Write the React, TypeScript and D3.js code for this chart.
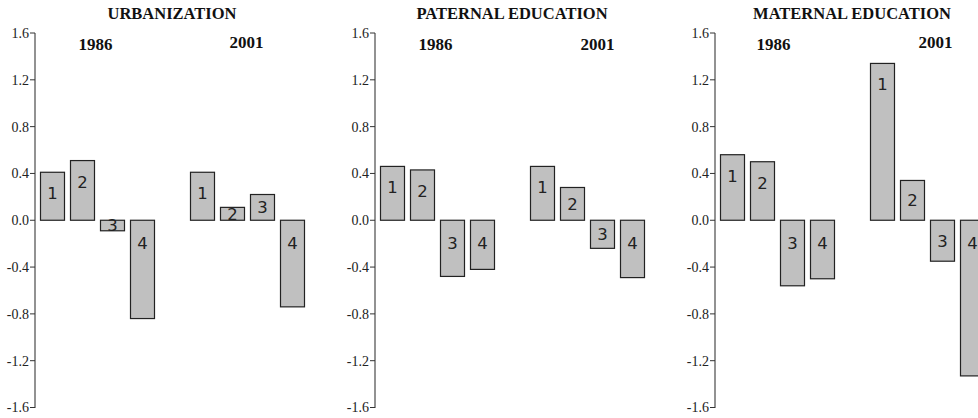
import React from "react";
import * as d3 from "d3";

const panelTitles = ["URBANIZATION", "PATERNAL EDUCATION", "MATERNAL EDUCATION"];
const years = ["1986", "2001"];
const groups = ["1", "2", "3", "4"];

const urbanization1986 = [0.41, 0.51, -0.09, -0.84];
const urbanization2001 = [0.41, 0.11, 0.22, -0.74];
const paternal1986 = [0.46, 0.43, -0.48, -0.42];
const paternal2001 = [0.46, 0.28, -0.24, -0.49];
const maternal1986 = [0.56, 0.5, -0.56, -0.5];
const maternal2001 = [1.34, 0.34, -0.35, -1.33];

const yTicks = [-1.6, -1.2, -0.8, -0.4, 0, 0.4, 0.8, 1.2, 1.6];

const panelData = [
  [urbanization1986, urbanization2001],
  [paternal1986, paternal2001],
  [maternal1986, maternal2001],
];

const W = 978;
const H = 418;
const axisXs = [35, 375, 715];
const yearLabelShift = [[-2, -1], [-2, 10], [-4, 8]];
const yearLabelBaseline = [[50, 48], [50, 50], [50, 48]];

const y = d3.scaleLinear().domain([-1.6, 1.6]).range([407.5, 33]);
const fmt = (v: number) => d3.format(".1f")(v).replace("−", "-");

const slots = [
  ...groups.map((g) => `${years[0]}-${g}`),
  "gap",
  ...groups.map((g) => `${years[1]}-${g}`),
];

function Panel({ idx }: { idx: number }) {
  const ax = axisXs[idx];
  const x0 = ax + 5.5;
  const x = d3
    .scaleBand<string>()
    .domain(slots)
    .range([x0, x0 + 9 * 30 - 6])
    .paddingInner(0.2)
    .paddingOuter(0);
  const bw = x.bandwidth();
  const groupCenter = (yi: number) => {
    const first = x(`${years[yi]}-${groups[0]}`)!;
    const last = x(`${years[yi]}-${groups[3]}`)!;
    return (first + last + bw) / 2;
  };
  return (
    <g>
      <text
        x={ax + 137}
        y={18.5}
        textAnchor="middle"
        fontFamily="'Liberation Serif', 'Times New Roman', serif"
        fontWeight="bold"
        fontSize={16.5}
        fill="#111"
      >
        {panelTitles[idx]}
      </text>
      {years.map((yr, yi) => (
        <text
          key={yr}
          x={groupCenter(yi) + yearLabelShift[idx][yi]}
          y={yearLabelBaseline[idx][yi]}
          textAnchor="middle"
          fontFamily="'Liberation Serif', 'Times New Roman', serif"
          fontWeight="bold"
          fontSize={17}
          fill="#111"
        >
          {yr}
        </text>
      ))}
      <line x1={ax} x2={ax} y1={y(1.6)} y2={y(-1.6) + 0.5} stroke="#777" strokeWidth={1.6} />
      {yTicks.map((t) => (
        <g key={t}>
          <line x1={ax - 5} x2={ax} y1={y(t)} y2={y(t)} stroke="#333" strokeWidth={1} />
          <text
            x={ax - 6}
            y={y(t)}
            dy="0.35em"
            textAnchor="end"
            fontFamily="'Liberation Serif', 'Times New Roman', serif"
            fontSize={14}
            fill="#222"
          >
            {fmt(t)}
          </text>
        </g>
      ))}
      {years.map((yr, yi) =>
        panelData[idx][yi].map((v, gi) => {
          const key = `${yr}-${groups[gi]}`;
          const bx = x(key)!;
          const top = y(Math.max(0, v));
          const bottom = y(Math.min(0, v));
          const h = bottom - top;
          const ly = top + Math.min(v >= 0 ? 21 : 23, h / 2);
          return (
            <g key={key}>
              <rect
                x={bx}
                y={top}
                width={bw}
                height={h}
                fill="#c0c0c0"
                stroke="#222"
                strokeWidth={1.2}
              />
              <text
                x={bx + bw / 2}
                y={ly}
                dy="0.36em"
                textAnchor="middle"
                fontFamily="'DejaVu Sans', sans-serif"
                fontSize={16.5}
                fill="#222"
              >
                {groups[gi]}
              </text>
            </g>
          );
        })
      )}
    </g>
  );
}

export default function App() {
  return (
    <div style={{ position: "absolute", left: 0, top: 0, width: W, height: H, background: "#fff" }}>
      <svg width={W} height={H} viewBox={`0 0 ${W} ${H}`} style={{ display: "block" }}>
        <rect x={0} y={0} width={W} height={H} fill="#fff" />
        {panelTitles.map((_, i) => (
          <Panel key={i} idx={i} />
        ))}
      </svg>
    </div>
  );
}
